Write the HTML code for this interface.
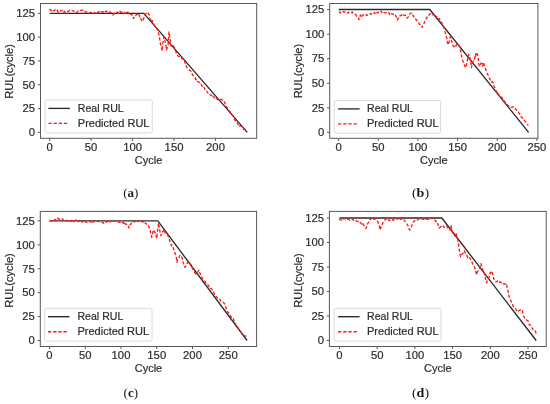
<!DOCTYPE html><html><head><meta charset="utf-8"><style>
html,body{margin:0;padding:0;background:#fff;width:550px;height:404px;overflow:hidden}
svg{display:block;filter:blur(0.3px)}
text{font-family:"Liberation Sans", sans-serif;fill:#2b2b2b;stroke:#2b2b2b;stroke-width:0.18px}
.t{font-size:10px}
.lab{font-family:"Liberation Serif", serif;font-size:13px;fill:#1a1a1a;stroke:none}
</style></head><body>
<svg width="550" height="404" viewBox="0 0 550 404">
<rect x="40.5" y="3.5" width="216.2" height="134.8" fill="none" stroke="#585858" stroke-width="1"/>
<line x1="37.9" y1="132.4" x2="40.5" y2="132.4" stroke="#585858" stroke-width="1"/>
<text class="t" transform="translate(35.1,136.2) scale(1.13,1)" text-anchor="end">0</text>
<line x1="37.9" y1="108.58" x2="40.5" y2="108.58" stroke="#585858" stroke-width="1"/>
<text class="t" transform="translate(35.1,112.38) scale(1.13,1)" text-anchor="end">25</text>
<line x1="37.9" y1="84.76" x2="40.5" y2="84.76" stroke="#585858" stroke-width="1"/>
<text class="t" transform="translate(35.1,88.56) scale(1.13,1)" text-anchor="end">50</text>
<line x1="37.9" y1="60.94" x2="40.5" y2="60.94" stroke="#585858" stroke-width="1"/>
<text class="t" transform="translate(35.1,64.74) scale(1.13,1)" text-anchor="end">75</text>
<line x1="37.9" y1="37.12" x2="40.5" y2="37.12" stroke="#585858" stroke-width="1"/>
<text class="t" transform="translate(35.1,40.92) scale(1.13,1)" text-anchor="end">100</text>
<line x1="37.9" y1="13.3" x2="40.5" y2="13.3" stroke="#585858" stroke-width="1"/>
<text class="t" transform="translate(35.1,17.1) scale(1.13,1)" text-anchor="end">125</text>
<line x1="49.6" y1="138.3" x2="49.6" y2="140.9" stroke="#585858" stroke-width="1"/>
<text class="t" transform="translate(49.6,151.1) scale(1.13,1)" text-anchor="middle">0</text>
<line x1="91.08" y1="138.3" x2="91.08" y2="140.9" stroke="#585858" stroke-width="1"/>
<text class="t" transform="translate(91.08,151.1) scale(1.13,1)" text-anchor="middle">50</text>
<line x1="132.55" y1="138.3" x2="132.55" y2="140.9" stroke="#585858" stroke-width="1"/>
<text class="t" transform="translate(132.55,151.1) scale(1.13,1)" text-anchor="middle">100</text>
<line x1="174.03" y1="138.3" x2="174.03" y2="140.9" stroke="#585858" stroke-width="1"/>
<text class="t" transform="translate(174.03,151.1) scale(1.13,1)" text-anchor="middle">150</text>
<line x1="215.5" y1="138.3" x2="215.5" y2="140.9" stroke="#585858" stroke-width="1"/>
<text class="t" transform="translate(215.5,151.1) scale(1.13,1)" text-anchor="middle">200</text>
<text class="t" transform="translate(148.6,163.6) scale(1.105,1)" text-anchor="middle">Cycle</text>
<text class="t" transform="translate(12.7,71.4) rotate(-90) scale(1.105,1)" text-anchor="middle">RUL(cycle)</text>
<polyline points="49.6,13.3 143.8,13.3 247.3,132.4" fill="none" stroke="#2a2a2a" stroke-width="1.35" stroke-linejoin="miter"/>
<polyline points="49.5,9.1 50.33,9.82 51.16,10.76 51.99,9.84 52.1,10.5 52.93,11.12 53.76,10.67 54.5,10.5 55.33,9.36 56.16,9.22 56.5,9.1 57.33,10.36 58.16,12.35 58.4,12.1 59.23,11.09 60.06,11.02 60.3,11 61.13,10.71 61.9,10.2 62.73,11.24 63,12.4 63.83,12 64.4,11.3 65.23,12.12 66,12.6 66.83,11.82 67.66,11.52 67.9,11.5 68.73,11.25 69.56,10.12 69.8,10.2 70.63,10.48 71.46,10.68 71.7,10.5 72.53,10.58 73.36,11 74.19,11.45 74.2,11.5 75.03,11.98 75.86,12.24 76.1,12.6 76.93,12.41 77.76,11.42 78,11 78.83,11.23 79.4,10.5 80.23,10.15 81,10.5 81.83,10.48 82.66,10.01 82.9,10.5 83.73,11.21 84.56,11.21 85.1,11.5 85.93,12.31 86.76,12.01 87,12 87.83,11.96 88.66,12.51 88.9,12.6 89.73,13.01 90.56,12.65 91,12.3 91.83,12.35 92.66,12.63 93,12.4 93.83,13.7 94.66,12.42 94.9,12.6 95.73,12.9 96.56,13.17 96.8,13.2 97.63,12.7 98.46,11.76 99.29,11.8 99.3,11.8 100.13,11.66 100.96,12.45 101,11.8 101.83,11.54 102.66,12.07 103,12 103.83,11.7 104.66,10.74 105,11.5 105.83,11.13 106.66,11.73 107,11 107.83,11.61 108.66,11.27 109,12 109.83,12.19 110.66,12.22 111,12.8 111.83,13.58 112.66,14.71 113,15 113.83,13.9 114.66,13.17 115,13.5 115.83,12.56 116.66,12.38 117,12.5 117.83,12.2 118.66,13.31 119,12.3 119.83,11.34 120.66,12.07 121,12 121.83,12.41 122.66,12.1 123,12.3 123.83,13.52 124.66,12.29 125.1,14.1 125.93,13.36 126.76,12.52 126.9,12.6 127.73,12.2 128.56,13.05 129,13 129.83,13.98 130.66,14.37 130.9,14.1 131.73,14.39 132.56,15.83 133.1,15.9 133.5,18.5 134.33,16.77 134.9,15.5 135.73,15.51 136.56,14.58 137.1,14.1 137.93,15.05 138.76,14.05 138.9,14.5 139.73,16.74 140,16.3 140.83,18.67 141.1,19.2 141.93,20.73 142.2,21.4 143.03,20.74 143.3,19.2 144,17.4 144.83,14.7 145.1,14.5 145.93,14.01 146.76,12.21 146.9,12.3 147.73,12.87 148.4,13.4 149.23,14.91 149.5,16.6 150,19.2 150.83,21.09 151,21.5 151.83,20 152,20.3 152.83,22.16 153.1,22.5 153.93,23.82 154,25 154.83,26.36 155.6,26.8 156.43,28 157.26,29.31 157.8,29.5 158.63,33.47 159,35 159.83,39.97 160,42 160.83,45.05 161.5,48 162,51 162.83,43.8 163,42 163.83,38.07 164,37 164.83,40.12 165,41 165.83,45.97 166,46 166.5,50 167.33,47.26 168,46 168.83,34.73 169,32 169.83,36.98 170,38 170.83,44.76 171,46 171.83,45.9 172.66,44.61 173,45 173.83,46.12 174,47 174.83,48.83 175.66,51.19 176,52 176.83,53.99 177.66,55.45 178,56 178.83,56.32 179.66,57.06 180.49,57.63 181,57.5 181.83,58.58 182.66,58.16 183.49,59.65 184.3,60 185.13,63.3 185.6,65 186.43,66.45 186.8,67.4 187.63,68.44 188.46,69.25 189.29,70.07 190,70.5 190.83,70.98 191.66,73.3 192.49,74.7 193.32,75.72 194.15,77.08 194.3,77.3 195.13,77.88 195.96,79.72 196.79,79.25 197.3,81 198.13,81.68 198.96,82.45 199.79,82.48 200.4,84.1 201.23,84.43 202.06,86.1 202.89,86.47 203.72,86.18 204.2,87.8 205.03,89.55 205.86,89.29 206.69,91.07 207.52,92.72 207.9,92.8 208.73,92.87 209.56,94.02 210,94.5 210.83,95.24 211.66,95.19 212.49,97.42 213.32,96.34 213.9,97.2 214.73,98.41 215.56,97.47 216.39,98.24 217.22,99.27 218.05,99.85 218.4,100 219.23,100.17 220.06,100.04 220.89,99.48 221.7,99.5 222.53,100.25 223.36,101.32 223.9,101.1 224.73,102.82 225.56,104.55 226.2,106.1 227.03,107.71 227.86,108.62 228.4,110 229.23,111.12 230.06,111.49 230.89,113.47 231.72,114.25 232.3,115 233.13,116.02 233.96,118.32 234.79,120.27 235,120 235.83,120.69 236.66,121.23 237.49,123.57 238.32,124.86 238.4,124.5 239.23,124.22 240.06,126.19 240.89,125.97 241.2,126.2 242.03,126.7 242.86,127.33 243.69,129.48 244.5,129 245.33,128.63 246.16,128.11 246.4,128.6" fill="none" stroke="#ff1a1a" stroke-width="1.35" stroke-dasharray="3.3,1.85" stroke-linejoin="round"/>
<rect x="45" y="100" width="107.3" height="32.9" rx="2" ry="2" fill="#fff" fill-opacity="0.8" stroke="#d6d6d6" stroke-width="0.9"/>
<line x1="48.4" y1="108.4" x2="69.9" y2="108.4" stroke="#2a2a2a" stroke-width="1.35"/>
<line x1="48.4" y1="123.4" x2="68.8" y2="123.4" stroke="#ff1a1a" stroke-width="1.35" stroke-dasharray="3.3,1.85"/>
<text class="t" transform="translate(77.8,111.9) scale(1.06,1)" text-anchor="start">Real RUL</text>
<text class="t" transform="translate(77.8,126.9) scale(1.105,1)" text-anchor="start">Predicted RUL</text>
<text class="lab" transform="translate(130.75,196.9) scale(1.0,1)" text-anchor="middle">(<tspan font-weight="bold">a</tspan>)</text>
<rect x="329.7" y="3.5" width="208.2" height="134.8" fill="none" stroke="#585858" stroke-width="1"/>
<line x1="327.1" y1="132.4" x2="329.7" y2="132.4" stroke="#585858" stroke-width="1"/>
<text class="t" transform="translate(324.3,136.2) scale(1.13,1)" text-anchor="end">0</text>
<line x1="327.1" y1="107.83" x2="329.7" y2="107.83" stroke="#585858" stroke-width="1"/>
<text class="t" transform="translate(324.3,111.62) scale(1.13,1)" text-anchor="end">25</text>
<line x1="327.1" y1="83.25" x2="329.7" y2="83.25" stroke="#585858" stroke-width="1"/>
<text class="t" transform="translate(324.3,87.05) scale(1.13,1)" text-anchor="end">50</text>
<line x1="327.1" y1="58.68" x2="329.7" y2="58.68" stroke="#585858" stroke-width="1"/>
<text class="t" transform="translate(324.3,62.48) scale(1.13,1)" text-anchor="end">75</text>
<line x1="327.1" y1="34.1" x2="329.7" y2="34.1" stroke="#585858" stroke-width="1"/>
<text class="t" transform="translate(324.3,37.9) scale(1.13,1)" text-anchor="end">100</text>
<line x1="327.1" y1="9.53" x2="329.7" y2="9.53" stroke="#585858" stroke-width="1"/>
<text class="t" transform="translate(324.3,13.33) scale(1.13,1)" text-anchor="end">125</text>
<line x1="338.7" y1="138.3" x2="338.7" y2="140.9" stroke="#585858" stroke-width="1"/>
<text class="t" transform="translate(338.7,151.1) scale(1.13,1)" text-anchor="middle">0</text>
<line x1="378.32" y1="138.3" x2="378.32" y2="140.9" stroke="#585858" stroke-width="1"/>
<text class="t" transform="translate(378.32,151.1) scale(1.13,1)" text-anchor="middle">50</text>
<line x1="417.95" y1="138.3" x2="417.95" y2="140.9" stroke="#585858" stroke-width="1"/>
<text class="t" transform="translate(417.95,151.1) scale(1.13,1)" text-anchor="middle">100</text>
<line x1="457.57" y1="138.3" x2="457.57" y2="140.9" stroke="#585858" stroke-width="1"/>
<text class="t" transform="translate(457.57,151.1) scale(1.13,1)" text-anchor="middle">150</text>
<line x1="497.2" y1="138.3" x2="497.2" y2="140.9" stroke="#585858" stroke-width="1"/>
<text class="t" transform="translate(497.2,151.1) scale(1.13,1)" text-anchor="middle">200</text>
<line x1="536.83" y1="138.3" x2="536.83" y2="140.9" stroke="#585858" stroke-width="1"/>
<text class="t" transform="translate(536.83,151.1) scale(1.13,1)" text-anchor="middle">250</text>
<text class="t" transform="translate(433.8,163.6) scale(1.105,1)" text-anchor="middle">Cycle</text>
<text class="t" transform="translate(301.9,71.1) rotate(-90) scale(1.105,1)" text-anchor="middle">RUL(cycle)</text>
<polyline points="338.7,9.53 429.8,9.53 528.6,132.4" fill="none" stroke="#2a2a2a" stroke-width="1.35" stroke-linejoin="miter"/>
<polyline points="339,12.5 339.79,11.89 340.58,13.01 341.38,12.17 342.17,12.31 342.96,11.39 343.75,12.15 344,12 344.79,11.93 345.58,11.85 346.38,11.7 347.17,12.01 347.96,13.23 348.75,12.27 349.55,11.88 350,12 350.79,11.86 351.58,12.66 352.38,12.01 353,13 353.79,13.84 354.58,13.81 355,14 355.79,14.94 356.58,16.11 357,16.5 357.79,17.66 358.58,17.97 359,19.5 359.79,16.28 360.5,15 361.29,17.06 361.5,17.5 362.29,15.87 363.08,15.01 363.5,14.5 364.29,13.87 365.08,14.38 365.88,14.78 366.67,15.49 367,15 367.79,15.13 368.58,14.87 369.38,14.04 370,14 370.79,13.44 371.58,14.48 372.38,14.16 373,13.5 373.79,13.46 374.58,12.35 375.38,13.94 376.17,14.27 376.96,12.43 377.75,12.56 378,12.5 378.79,12.35 379.58,12.48 380.38,12.59 381.17,11.09 381.96,12.61 382,12 382.79,11.83 383.58,12 384.38,12.56 385,12.8 385.79,12.87 386.58,12.96 387.38,13.65 388.17,13.45 388.96,12.71 389.75,14.67 390,13.5 390.79,13.61 391.58,13.69 392.38,13.88 393.17,14.06 393.96,14.96 394.75,14.28 395,14.5 395.79,16.17 396.58,17.25 397.38,19.97 397.5,19.5 398.29,18.54 399.08,17.12 399.88,15.8 400,16 400.79,15.45 401.58,15.27 402,14 402.79,13.93 403.58,15.13 404.38,15.3 405,15 405.79,15.76 406.58,18.01 407,18 407.79,17.43 408.58,16.51 409,15 409.79,14.06 410.58,13.33 411,13 411.79,13.61 412.58,15.24 413,15 413.79,16.6 414.58,18.06 415,18 415.79,19.53 416.58,19.94 417.38,21.26 418,21.5 418.79,22.81 419.58,24.53 420,24.5 420.79,25.5 421.58,26.56 422,27.5 422.79,25.4 423.58,24.38 424,23.5 424.79,21.1 425.58,19.17 426,19 426.79,17.72 427.58,16.67 428,16 428.79,15.83 429.58,14.07 430,14 430.79,13.75 431,13.3 431.79,13.97 432.58,14.81 433,13.5 433.79,14.71 434.5,15 435.29,15.6 436.08,17.01 436.88,16.52 437,17 437.79,18.54 438.5,19 439.29,18.46 440.08,19.87 440.88,20.08 441,21 441.79,23.12 442,23.5 442.79,24.87 443.58,27.06 444,28 444.79,31.26 445,32 445.79,34.43 446.5,37 447.29,41.13 447.5,42 448,44.8 448.79,42.88 449.5,40.5 450.29,36.98 450.5,36.8 451.29,40.08 451.5,41 452.29,43.39 452.3,43.4 453.09,45.82 453.1,45.8 453.89,46.62 454.69,47.82 454.7,47.8 455.49,45.61 456.2,45.8 456.99,44.32 457.4,44 458.19,44.81 458.5,45 459.29,45.95 459.8,46.9 460.59,50.47 460.6,50.8 461.39,54.75 461.5,55.6 462.29,58.94 462.8,60.8 463.59,62.34 464.1,64.3 464.89,66.07 465.4,67.7 466.19,65.86 466.7,64.3 467.49,59.3 467.6,58.2 468.39,56.34 468.9,54.3 469.69,56.54 469.7,56.5 470.49,60.95 470.6,60.8 471.39,67.27 471.5,67.7 472.29,63.33 472.3,63.4 473.09,61.45 473.6,60.8 474.39,58.61 474.5,59 475.29,55.52 475.4,56.5 476.19,52.78 476.2,53 476.99,53.98 477,53.5 477.79,55.94 478,56.5 478.4,59.9 478.8,64.3 479.59,66.27 479.7,66 480.49,64.87 481,63 481.79,63.56 482,64 482.7,66 483.49,62.19 483.6,62.5 484.39,65.55 484.5,66 485.29,68.13 485.8,69.5 486.59,72 487.1,72.9 487.89,74.78 488,74.8 488.79,76.85 489.58,78.38 489.9,79.2 490.69,80.64 491.48,82.16 492.28,81.4 493,82.9 493.79,85.52 494.2,86.6 494.99,88.19 495.78,89.48 496,90.9 496.79,92.1 497.58,91.95 498.38,92.99 498.5,94 499.29,95.73 500.08,95.59 500.88,95.58 501,96 501.79,97.22 502.58,98.55 503.38,99.7 503.4,99.5 504.19,100.96 504.98,102 505.78,103.37 506.1,103.4 506.89,103.6 507.69,105.36 508.48,105.64 508.9,106.1 509.69,106.23 510.48,107.35 511.28,107.38 511.7,107.3 512.49,106.99 513.28,106.79 514.08,107.01 514.87,107.2 515,107.8 515.79,109.46 516.59,110.18 517.3,110.6 518.09,111.83 518.88,112.85 519.68,114.06 520,114.5 520.79,116.7 521.59,116.96 522.3,117.8 523.09,119.37 523.88,120.09 524.5,120.6 525.29,121.69 526.09,122.3 526.7,123.4 527.49,124.79 528.29,124.57 528.4,124.5" fill="none" stroke="#ff1a1a" stroke-width="1.35" stroke-dasharray="3.3,1.85" stroke-linejoin="round"/>
<rect x="334.2" y="100.5" width="106.4" height="32.7" rx="2" ry="2" fill="#fff" fill-opacity="0.8" stroke="#d6d6d6" stroke-width="0.9"/>
<line x1="338.1" y1="108.9" x2="359.6" y2="108.9" stroke="#2a2a2a" stroke-width="1.35"/>
<line x1="338.1" y1="123.9" x2="358.5" y2="123.9" stroke="#ff1a1a" stroke-width="1.35" stroke-dasharray="3.3,1.85"/>
<text class="t" transform="translate(367,112.4) scale(1.06,1)" text-anchor="start">Real RUL</text>
<text class="t" transform="translate(367,127.4) scale(1.105,1)" text-anchor="start">Predicted RUL</text>
<text class="lab" transform="translate(420.5,196.9) scale(1.08,1)" text-anchor="middle">(<tspan font-weight="bold">b</tspan>)</text>
<rect x="40.3" y="211.4" width="216.3" height="135.1" fill="none" stroke="#585858" stroke-width="1"/>
<line x1="37.7" y1="340.5" x2="40.3" y2="340.5" stroke="#585858" stroke-width="1"/>
<text class="t" transform="translate(34.9,344.3) scale(1.13,1)" text-anchor="end">0</text>
<line x1="37.7" y1="316.57" x2="40.3" y2="316.57" stroke="#585858" stroke-width="1"/>
<text class="t" transform="translate(34.9,320.38) scale(1.13,1)" text-anchor="end">25</text>
<line x1="37.7" y1="292.65" x2="40.3" y2="292.65" stroke="#585858" stroke-width="1"/>
<text class="t" transform="translate(34.9,296.45) scale(1.13,1)" text-anchor="end">50</text>
<line x1="37.7" y1="268.73" x2="40.3" y2="268.73" stroke="#585858" stroke-width="1"/>
<text class="t" transform="translate(34.9,272.53) scale(1.13,1)" text-anchor="end">75</text>
<line x1="37.7" y1="244.8" x2="40.3" y2="244.8" stroke="#585858" stroke-width="1"/>
<text class="t" transform="translate(34.9,248.6) scale(1.13,1)" text-anchor="end">100</text>
<line x1="37.7" y1="220.88" x2="40.3" y2="220.88" stroke="#585858" stroke-width="1"/>
<text class="t" transform="translate(34.9,224.68) scale(1.13,1)" text-anchor="end">125</text>
<line x1="49.5" y1="346.5" x2="49.5" y2="349.1" stroke="#585858" stroke-width="1"/>
<text class="t" transform="translate(49.5,359.3) scale(1.13,1)" text-anchor="middle">0</text>
<line x1="85.25" y1="346.5" x2="85.25" y2="349.1" stroke="#585858" stroke-width="1"/>
<text class="t" transform="translate(85.25,359.3) scale(1.13,1)" text-anchor="middle">50</text>
<line x1="121" y1="346.5" x2="121" y2="349.1" stroke="#585858" stroke-width="1"/>
<text class="t" transform="translate(121,359.3) scale(1.13,1)" text-anchor="middle">100</text>
<line x1="156.75" y1="346.5" x2="156.75" y2="349.1" stroke="#585858" stroke-width="1"/>
<text class="t" transform="translate(156.75,359.3) scale(1.13,1)" text-anchor="middle">150</text>
<line x1="192.5" y1="346.5" x2="192.5" y2="349.1" stroke="#585858" stroke-width="1"/>
<text class="t" transform="translate(192.5,359.3) scale(1.13,1)" text-anchor="middle">200</text>
<line x1="228.25" y1="346.5" x2="228.25" y2="349.1" stroke="#585858" stroke-width="1"/>
<text class="t" transform="translate(228.25,359.3) scale(1.13,1)" text-anchor="middle">250</text>
<text class="t" transform="translate(148.45,371.8) scale(1.105,1)" text-anchor="middle">Cycle</text>
<text class="t" transform="translate(12.5,280.5) rotate(-90) scale(1.105,1)" text-anchor="middle">RUL(cycle)</text>
<polyline points="49.5,220.88 157.8,220.88 247.1,340.5" fill="none" stroke="#2a2a2a" stroke-width="1.35" stroke-linejoin="miter"/>
<polyline points="49.5,221 50.22,220.61 50.93,220.88 51.65,220.72 52,220.5 52.72,220.45 53.43,219.81 54,219.5 54.72,219.52 55.43,219.71 56,220.5 56.72,220.35 57.43,218.25 58,218.8 58.72,218.79 59.43,218.83 60,219.5 60.72,219.28 61.43,218.76 62,218.8 62.72,219.2 63.43,220.37 64,220.5 64.72,220.07 65.43,219.62 66,220 66.72,220.8 67.43,221.1 68,221 68.72,221.72 69.43,221.6 70,221.5 70.72,220.81 71.43,221.31 72,220.5 72.72,220.86 73.43,221.65 74,222 74.72,220.78 75.43,220.28 76,220 76.72,220.74 77.43,221.38 78,221.5 78.72,221.16 79.43,221.34 80,220.5 80.72,221 81.43,220.63 82,222 82.72,222.05 83.43,220.67 84,221.5 84.72,220.92 85.43,221.66 86,222 86.72,222.42 87.43,222.59 88,222.5 88.72,222.02 89.43,221.94 90,221.5 90.72,221.27 91.43,223.29 92,222.5 92.72,222.03 93.43,221.72 94.14,221.32 94.86,221.57 95,221 95.72,221.19 96.43,221.31 97.14,221.18 97.86,221.29 98.58,221.66 99.29,221.67 100,221.8 100.72,221.92 101.43,221.68 102,222 102.72,222.71 103.43,222.7 104.14,223.44 104.5,222.8 105.22,222.71 105.93,222.14 106,222 106.72,221.62 107.43,221.74 108,221 108.72,221.39 109.43,221.3 110,222 110.72,221.49 111.43,220.71 112.14,222.11 112.86,221.99 113,221.3 113.72,220.74 114.43,220.96 115.14,221.08 115.86,221.2 116,221.5 116.72,221.81 117.43,221.86 118,221.8 118.72,222.05 119.43,222.3 120.14,222.36 120.86,222.54 121.58,221.71 122,222.5 122.72,222.45 123.43,223.24 124.14,222.38 124.86,224.07 125,223.5 125.72,224.37 126.43,224.19 127.14,224.59 127.86,224.6 128,224.8 128.72,227.67 129,228 129.72,226.16 130,225 130.72,224.38 131.43,222.9 132,223 132.72,222.96 133.43,221.55 134,221.5 134.72,221.81 135.43,221.43 136.15,221.75 136.86,222.38 137.57,220.98 138,221.7 138.72,221.64 139.43,221.3 140.15,221.41 140.86,221.93 141,221.8 141.72,221.5 142.43,221.4 143,222 143.72,222.02 144.43,223.57 145,223 145.72,223.49 146.43,223.78 147.15,224.89 147.86,224.56 148.4,225.6 149.12,227.57 149.83,229.91 150,230 150.72,232.93 151.1,234.5 151.7,237.3 152.41,233.87 152.8,232.3 153.52,230.12 153.9,230.6 154.62,232.15 155,232.3 155.72,234.6 156.2,236.2 156.6,238.6 157.3,233 158.02,227.89 158.2,225.9 158.6,223.1 159.31,228.51 159.4,228.3 160.1,231.9 160.81,234.88 160.9,235.8 161.62,233.79 161.7,233.4 162.41,231.73 162.9,231.5 163.62,230.38 164.1,229.1 164.81,231.81 164.9,232.3 165.62,233.3 166.1,233.4 166.81,233.8 167.3,234.6 168.02,235.69 168.5,237 169.22,238.82 169.6,240.6 170.31,242.07 170.8,243.3 171.52,245.75 171.6,245.3 172.31,245.44 172.8,247.3 173.52,248.43 174.2,251.1 174.91,252.68 175.3,253.9 176.02,256.16 176.5,258.4 177,262.3 177.72,259.08 178.1,258.4 178.81,257.87 179.53,255.67 179.8,255.6 180.52,256.61 181.23,256.13 181.5,256.7 182.22,258.14 182.6,260.6 183.31,262.98 183.7,263.9 184.41,266.73 184.8,267.3 185.52,266.5 185.9,265.6 186.62,265.06 187,263.9 187.72,261.88 188.2,261.2 188.91,261.4 189.6,262.8 190.31,263.95 190.9,264.5 191.62,265.57 192.1,266.7 192.81,269.18 193.2,270.1 193.91,270.99 194.5,272.3 195.22,272.93 195.93,274.05 196,274 196.72,273.11 197.4,272.3 198.12,271.31 198.83,270.08 199,270.1 199.72,272.95 199.9,272.9 200.62,275.04 201,276.2 201.72,276.93 202.43,278.31 203,279 203.72,279.35 204.43,280.86 204.9,281.2 205.62,282.83 206.33,282.98 207.05,283.43 207.1,284 207.81,284.46 208.53,286.02 209.25,286.7 209.3,287.3 210.02,287.3 210.73,288.47 211.45,288.7 212.16,289.78 212.2,289.6 212.91,290.9 213.63,291.94 214.34,293.97 215.06,295.15 215.77,295.85 216.3,296.9 217.02,297.08 217.73,298.46 218.45,299.18 219.16,299 219.88,299.55 220.3,300.1 221.02,301.4 221.73,302.04 222.45,301.77 223.16,302.17 223.88,303.12 224.3,303.3 225.02,304.98 225.73,307.17 226.45,309.35 226.7,309.7 227.41,311.33 228.13,312.66 228.84,312.95 229.56,313.82 229.9,315.4 230.62,316.49 231.33,316.62 232.05,317.32 232.76,317.46 233.1,317.8 233.81,320.17 234.53,321.72 234.7,321.8 235.41,323.42 236.13,326.1 236.8,327.4 237.52,327.26 238.23,328.05 238.95,329.91 239.66,330.97 240.38,331.04 240.4,331.4 241.12,332.22 241.83,333.02 242.55,333.63 243.26,334.83 243.97,335.47 244.4,335.5 245.12,336.08 245.83,336.18 246.5,337.1" fill="none" stroke="#ff1a1a" stroke-width="1.35" stroke-dasharray="3.3,1.85" stroke-linejoin="round"/>
<rect x="44.6" y="308.3" width="107.4" height="32.8" rx="2" ry="2" fill="#fff" fill-opacity="0.8" stroke="#d6d6d6" stroke-width="0.9"/>
<line x1="48" y1="316.7" x2="69.5" y2="316.7" stroke="#2a2a2a" stroke-width="1.35"/>
<line x1="48" y1="331.7" x2="68.4" y2="331.7" stroke="#ff1a1a" stroke-width="1.35" stroke-dasharray="3.3,1.85"/>
<text class="t" transform="translate(77.4,320.2) scale(1.06,1)" text-anchor="start">Real RUL</text>
<text class="t" transform="translate(77.4,335.2) scale(1.105,1)" text-anchor="start">Predicted RUL</text>
<text class="lab" transform="translate(130.85,397.4) scale(1.0,1)" text-anchor="middle">(<tspan font-weight="bold">c</tspan>)</text>
<rect x="329.4" y="211.4" width="216.8" height="135.1" fill="none" stroke="#585858" stroke-width="1"/>
<line x1="326.8" y1="340.5" x2="329.4" y2="340.5" stroke="#585858" stroke-width="1"/>
<text class="t" transform="translate(324,344.3) scale(1.13,1)" text-anchor="end">0</text>
<line x1="326.8" y1="316" x2="329.4" y2="316" stroke="#585858" stroke-width="1"/>
<text class="t" transform="translate(324,319.8) scale(1.13,1)" text-anchor="end">25</text>
<line x1="326.8" y1="291.5" x2="329.4" y2="291.5" stroke="#585858" stroke-width="1"/>
<text class="t" transform="translate(324,295.3) scale(1.13,1)" text-anchor="end">50</text>
<line x1="326.8" y1="267" x2="329.4" y2="267" stroke="#585858" stroke-width="1"/>
<text class="t" transform="translate(324,270.8) scale(1.13,1)" text-anchor="end">75</text>
<line x1="326.8" y1="242.5" x2="329.4" y2="242.5" stroke="#585858" stroke-width="1"/>
<text class="t" transform="translate(324,246.3) scale(1.13,1)" text-anchor="end">100</text>
<line x1="326.8" y1="218" x2="329.4" y2="218" stroke="#585858" stroke-width="1"/>
<text class="t" transform="translate(324,221.8) scale(1.13,1)" text-anchor="end">125</text>
<line x1="339.5" y1="346.5" x2="339.5" y2="349.1" stroke="#585858" stroke-width="1"/>
<text class="t" transform="translate(339.5,359.3) scale(1.13,1)" text-anchor="middle">0</text>
<line x1="377.2" y1="346.5" x2="377.2" y2="349.1" stroke="#585858" stroke-width="1"/>
<text class="t" transform="translate(377.2,359.3) scale(1.13,1)" text-anchor="middle">50</text>
<line x1="414.9" y1="346.5" x2="414.9" y2="349.1" stroke="#585858" stroke-width="1"/>
<text class="t" transform="translate(414.9,359.3) scale(1.13,1)" text-anchor="middle">100</text>
<line x1="452.6" y1="346.5" x2="452.6" y2="349.1" stroke="#585858" stroke-width="1"/>
<text class="t" transform="translate(452.6,359.3) scale(1.13,1)" text-anchor="middle">150</text>
<line x1="490.3" y1="346.5" x2="490.3" y2="349.1" stroke="#585858" stroke-width="1"/>
<text class="t" transform="translate(490.3,359.3) scale(1.13,1)" text-anchor="middle">200</text>
<line x1="528" y1="346.5" x2="528" y2="349.1" stroke="#585858" stroke-width="1"/>
<text class="t" transform="translate(528,359.3) scale(1.13,1)" text-anchor="middle">250</text>
<text class="t" transform="translate(437.8,371.8) scale(1.105,1)" text-anchor="middle">Cycle</text>
<text class="t" transform="translate(301.6,280.5) rotate(-90) scale(1.105,1)" text-anchor="middle">RUL(cycle)</text>
<polyline points="339.5,218 441.9,218 536.2,340.5" fill="none" stroke="#2a2a2a" stroke-width="1.35" stroke-linejoin="miter"/>
<polyline points="339,219 339.75,219.55 340.51,219.9 341.26,219.85 342,220 342.75,218.93 343.51,219.19 344.26,218.39 345,218.5 345.75,218.8 346.51,218.22 347.26,219.31 348,219 348.75,219.3 349.51,220.11 350.26,219.48 351.02,219.61 351.77,219.15 352,219.3 352.75,219.2 353.51,220.37 354.26,219.91 355,220 355.75,220.65 356.51,220.91 357.26,221.52 358,221.5 358.75,221.07 359.51,221.43 360.26,222.91 361,223 361.75,224.72 362.51,223.35 363.26,224.55 364,225.5 364.75,226.74 365.51,227.52 366,228.5 366.75,226.29 367.51,224.17 368,223 368.75,222.13 369.51,220.38 370,219.5 370.75,219.33 371.51,218.42 372.26,219.05 373,218.5 373.75,219.43 374.51,219.04 375.26,218.71 376,219 376.75,219.52 377.51,221.47 378,222 378.75,224.45 379.5,226.5 380,230 380.75,227.98 381.51,225.11 382,225 382.75,223.1 383.51,221.43 384,221 384.75,219.79 385.51,219.58 386,219 386.75,218.47 387,219 387.75,219.23 388.51,220.34 389.26,219.72 390,220.5 390.75,220.38 391.51,220.66 392.26,220.01 393,220.3 393.75,219.17 394.51,219.62 395,219.3 395.75,219.59 396.51,218.28 397.26,218.87 398,219 398.75,218.91 399.51,219.94 400,219.5 400.75,218.62 401.51,219.18 402.26,218.52 403,219.2 403.75,219.54 404.51,220.89 405,221.5 405.75,222.22 406.51,223.26 407,224 407.75,225.3 408.51,226.59 409,228.5 409.5,230 410.25,229.07 411.01,228.01 411.5,226.5 412.25,224.43 413,222.5 413.75,221.34 414.51,221.19 415,220 415.75,220.06 416.51,219.82 417.26,220 418,219.5 418.75,218.93 419.51,218.86 420.26,219.21 421.02,218.54 421.77,218.99 422,219 422.75,219.06 423.51,219.22 424.26,219.19 425.02,218.29 425.77,218.89 426,219 426.75,219.11 427.51,219.43 428.26,219.42 429.02,218.82 429.77,218.86 430,219 430.75,218.37 431.51,218.68 432.26,218.51 433.02,218.25 433.7,218.9 434.45,219.4 435.21,220.71 435.96,221.66 436.2,221.2 436.95,222.6 437.71,223.7 438,224.3 438.75,227.51 438.9,228 439.65,227.7 440.41,226.96 441.16,226.27 441.2,226.1 441.95,225.7 442.71,225.42 443,225.5 443.75,227.21 444.51,227.37 444.9,227.3 445.65,226.34 446.41,226.62 446.7,226.1 447.45,226.92 448.21,228.63 448.6,229.2 449.35,229.35 450,230 450.75,227 451.1,225.5 451.85,229.81 452,231 452.75,232.93 452.9,233.5 453.65,234.68 454.41,235.73 454.8,236 455.55,233.23 456,233 456.75,236.26 457,236.6 457.75,239.25 457.9,241 458.65,244.94 458.9,247.2 459.65,252.19 459.7,252.8 460.45,256.36 460.6,256.8 461.35,255.43 462.11,253.92 462.4,253.7 463.15,252.92 463.91,251.23 464.3,250.6 465.05,252.26 465.81,254.37 466.2,254.9 466.95,255.34 467.71,257.49 468,256.8 468.75,257.85 469.51,257.72 469.9,258 470.65,259.56 471.41,261.16 471.7,261.7 472.45,263.26 473.21,264.34 473.6,264.8 474.35,266.75 475.11,269 475.4,270.4 476.15,273.4 476.7,274.7 477.45,271.71 477.9,271 478.65,269.13 479.41,268.6 479.8,267.3 480.55,264.29 481,263.6 481.75,266.69 482.3,268.5 483.05,270.59 483.81,272.81 484.1,272.3 484.85,276.11 485.4,277.8 486.15,281.03 486.6,282.8 487.35,280.61 488.11,280.03 488.5,278.5 489.25,276.49 490.01,274.05 490.3,272.3 491.05,272.28 491.6,271 492.35,273.53 492.5,274 493.25,276.71 494,279.7 494.75,279.94 495.51,281.41 495.9,281.6 496.65,281.85 497.41,281.01 498.16,281.26 498.92,281.48 499,281 499.75,282.34 500.51,281.87 501.26,282.7 501.5,283 502.25,282.79 503.01,283.03 503.76,284.12 504.3,283.9 505.05,284.15 505.81,283.31 506.2,283.4 506.95,286.09 507.6,288.6 508.35,292.59 508.8,295.4 509.55,298.23 510.31,299.07 510.9,300.9 511.65,302.52 512.41,304.05 512.9,305.6 513.65,306.88 514.41,307.31 515,308.3 515.75,308.72 516.51,310.98 517,311.7 517.75,311.36 518.51,310.79 519,310.6 519.75,310.22 520.51,309.89 521,309.5 521.75,310.21 522.4,310.5 523.1,314.5 523.85,316.54 524.61,317.85 525.1,318.5 525.85,319.55 526.61,319.96 527.36,320.44 527.9,320.6 528.65,322.87 529.2,324.6 529.95,325.14 530.71,325.01 531.3,326 532.05,327.81 532.81,329.53 533.3,329.4 534.05,329.95 534.81,330.13 535.1,330.8 535.85,332.53 536.4,333.5" fill="none" stroke="#ff1a1a" stroke-width="1.35" stroke-dasharray="3.3,1.85" stroke-linejoin="round"/>
<rect x="334.2" y="308.3" width="106.8" height="32.8" rx="2" ry="2" fill="#fff" fill-opacity="0.8" stroke="#d6d6d6" stroke-width="0.9"/>
<line x1="338.1" y1="316.7" x2="359.6" y2="316.7" stroke="#2a2a2a" stroke-width="1.35"/>
<line x1="338.1" y1="331.7" x2="358.5" y2="331.7" stroke="#ff1a1a" stroke-width="1.35" stroke-dasharray="3.3,1.85"/>
<text class="t" transform="translate(367,320.2) scale(1.06,1)" text-anchor="start">Real RUL</text>
<text class="t" transform="translate(367,335.2) scale(1.105,1)" text-anchor="start">Predicted RUL</text>
<text class="lab" transform="translate(420.5,397.4) scale(1.08,1)" text-anchor="middle">(<tspan font-weight="bold">d</tspan>)</text>
</svg></body></html>
